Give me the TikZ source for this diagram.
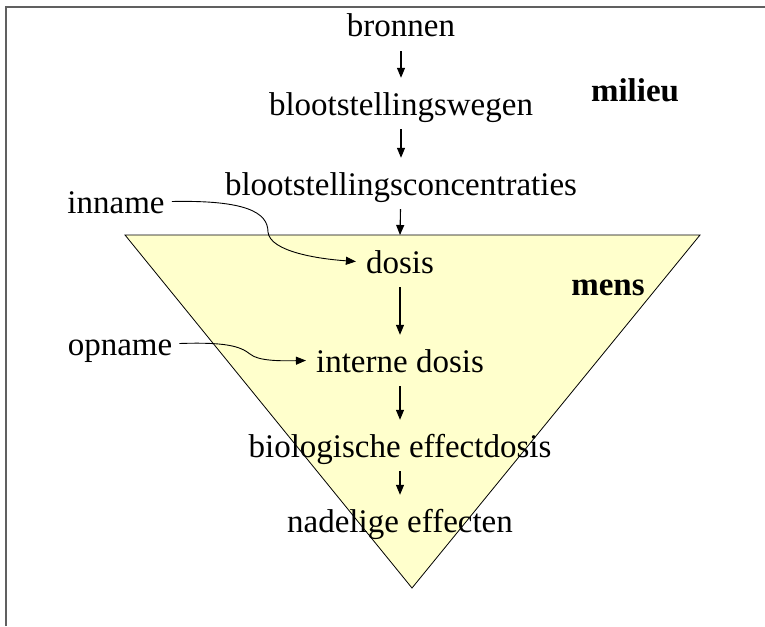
\documentclass[tikz,border=0pt]{standalone}
\usepackage{fontspec}
\setmainfont{Liberation Serif}
\usetikzlibrary{arrows.meta}
\definecolor{tri}{HTML}{FFFFCC}
\definecolor{frame}{HTML}{606060}
\tikzset{
  lbl/.style={anchor=base, font=\fontsize{33}{36}\selectfont, text height=30pt, text depth=7pt, inner xsep=10pt, inner ysep=7pt},
  side/.style={lbl, inner xsep=7pt},
  zone/.style={anchor=base, font=\fontsize{33}{36}\selectfont\bfseries, inner sep=0pt},
  arr/.style={line width=1.1pt, -{Triangle[length=10pt,width=8pt]}},
  curv/.style={line width=0.9pt, -{Triangle[length=10pt,width=8pt]}},
}
\begin{document}
\begin{tikzpicture}[x=1pt,y=-1pt]
\useasboundingbox (0,0) rectangle (765,626);
\draw[frame, line width=2pt] (6,626) -- (6,7) -- (765,7);
\draw[fill=tri, line width=0.8pt] (125,235) -- (700,235) -- (412,588) -- cycle;
\coordinate (ttop) at (400,235);
\node[lbl] (bronnen) at (401,37) {bronnen};
\node[lbl] (wegen) at (401,115) {blootstellingswegen};
\node[lbl] (conc) at (401,195) {blootstellingsconcentraties};
\node[lbl] (dosis) at (400,273) {dosis};
\node[lbl] (interne) at (400,372) {interne dosis};
\node[lbl] (bio) at (400,457) {biologische effectdosis};
\node[lbl] (nadel) at (400,532) {nadelige effecten};
\node[side] (inname) at (116,213) {inname};
\node[side] (opname) at (120,355) {opname};
\node[zone] (milieu) at (635,101) {milieu};
\node[zone] (mens) at (608,295) {mens};
\draw[arr] (bronnen) -- (wegen);
\draw[arr] (wegen) -- (conc);
\draw[arr] (conc) -- (ttop);
\draw[arr] (dosis) -- (interne);
\draw[arr] (interne) -- (bio);
\draw[arr] (bio) -- (nadel);
\draw[curv] (inname.east) .. controls (245,200) and (268,212) .. (268,232) .. controls (270,252) and (320,259) .. (dosis.west);
\draw[curv] (opname.east) .. controls (225,342) and (240,346) .. (250,354) .. controls (258,361) and (280,361) .. (interne.west);
\end{tikzpicture}
\end{document}
